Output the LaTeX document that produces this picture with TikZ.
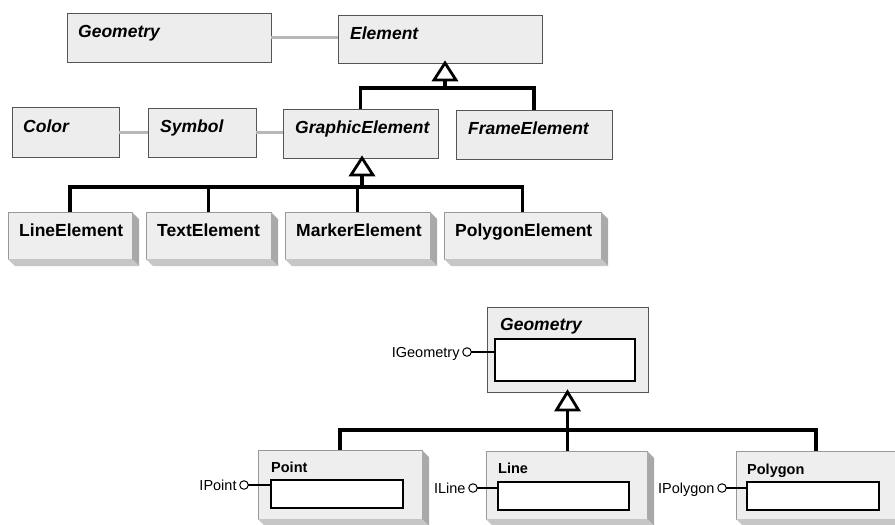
\documentclass[tikz,border=0pt]{standalone}
\usepackage{fontspec}
\setmainfont{Liberation Sans}
\usetikzlibrary{calc}
\definecolor{boxfill}{HTML}{EDEDED}
\definecolor{boxline}{HTML}{555555}
\definecolor{facefill}{HTML}{EEEEEE}
\definecolor{faceline}{HTML}{999999}
\definecolor{assocgray}{HTML}{B8B8B8}
\definecolor{sidegray}{HTML}{A9A9A9}
\definecolor{botgray}{HTML}{C6C6C6}
\tikzset{
 cls/.style={draw=boxline, fill=boxfill, line width=0.9pt, inner sep=0, outer sep=0, anchor=north west},
 face/.style={draw=faceline, fill=facefill, line width=0.6pt, inner sep=0, outer sep=0, anchor=north west},
 innerbox/.style={draw=black, fill=white, line width=1.3pt, inner sep=0, outer sep=0, anchor=north west},
 ttl/.style={font=\fontsize{17.5}{20}\selectfont\bfseries\itshape, inner sep=0, anchor=base west},
 sub/.style={font=\fontsize{17.5}{20}\selectfont\bfseries, inner sep=0, anchor=base west},
 small/.style={font=\fontsize{14.5}{17}\selectfont\bfseries, inner sep=0, anchor=base west},
 ifl/.style={font=\fontsize{14.5}{17}\selectfont, inner sep=0, anchor=base east},
 lolli/.style={circle, draw=black, fill=white, line width=1pt, minimum size=8.5pt, inner sep=0, outer sep=0},
 stick/.style={draw=black, line width=1.1pt},
 assoc/.style={draw=assocgray, line width=3pt},
 inh/.style={draw=black, line width=3.4pt, line join=miter},
 tri/.style={draw=black, fill=white, line width=2.8pt, line join=miter},
 sideface/.style={fill=sidegray},
 botface/.style={fill=botgray},
}
\newcommand{\mkdepth}[1]{%
 \fill[sideface] (#1.north east) -- ($(#1.north east)+(7,7)$) -- ($(#1.south east)+(7,7)$) -- (#1.south east) -- cycle;
 \fill[botface] (#1.south west) -- ($(#1.south west)+(7,7)$) -- ($(#1.south east)+(7,7)$) -- (#1.south east) -- cycle;
}
\begin{document}
\begin{tikzpicture}[x=1pt,y=-1pt]
\useasboundingbox (0,0) rectangle (895,525);
\clip (0,0) rectangle (895,525);
% ---------- top hierarchy ----------
\node[cls, minimum width=204pt, minimum height=49pt] (geoT) at (67,13) {};
\node[cls, minimum width=204pt, minimum height=48pt] (elem) at (338,15) {};
\node[cls, minimum width=107pt, minimum height=50pt] (col) at (12,107) {};
\node[cls, minimum width=108pt, minimum height=49pt] (sym) at (148,108) {};
\node[cls, minimum width=155pt, minimum height=49pt] (ge) at (283,109) {};
\node[cls, minimum width=156pt, minimum height=49pt] (fr) at (456,110) {};
\node[ttl] (geoTl) at (78,37) {Geometry};
\node[ttl] (eleml) at (350,39) {Element};
\node[ttl] (coll) at (23,132) {Color};
\node[ttl] (syml) at (160,132) {Symbol};
\node[ttl] (gel) at (295,133) {GraphicElement};
\node[ttl] (frl) at (468,134) {FrameElement};
\draw[assoc] (geoT.east) -- (geoT.east -| elem.west);
\draw[assoc] (col.east) -- (col.east -| sym.west);
\draw[assoc] (sym.east) -- (sym.east -| ge.west);
% 3D boxes
\node[face, minimum width=124pt, minimum height=47pt] (le) at (8,212) {};
\node[face, minimum width=125pt, minimum height=47pt] (te) at (146,212) {};
\node[face, minimum width=145pt, minimum height=47pt] (me) at (285,212) {};
\node[face, minimum width=157pt, minimum height=47pt] (pe) at (444,212) {};
\mkdepth{le}\mkdepth{te}\mkdepth{me}\mkdepth{pe}
\node[sub] (lel) at (19,236) {LineElement};
\node[sub] (tel) at (157,236) {TextElement};
\node[sub] (mel) at (296,236) {MarkerElement};
\node[sub] (pel) at (455,236) {PolygonElement};
% inheritance Element
\coordinate (t1) at ($(elem.south)+(5,0)$);
\coordinate (t1b) at ($(t1)+(0,17)$);
\coordinate (j1) at ($(t1)+(0,25)$);
\draw[inh] (ge.north) |- (j1) -| (fr.north);
\draw[inh] (t1b) -- (j1);
\draw[tri] (t1) -- ++(-11,17) -- ++(22,0) -- cycle;
% inheritance GraphicElement
\coordinate (t2) at ($(ge.south)+(1.5,0)$);
\coordinate (t2b) at ($(t2)+(0,17)$);
\coordinate (j2) at ($(t2)+(0,29)$);
\draw[inh] (le.north) |- (j2) -| (pe.north);
\draw[inh] (te.north) -- (te.north |- j2);
\draw[inh] (me.north) -- (me.north |- j2);
\draw[inh] (t2b) -- (j2);
\draw[tri] (t2) -- ++(-11,17) -- ++(22,0) -- cycle;
% ---------- bottom hierarchy ----------
\node[cls, minimum width=161pt, minimum height=85pt] (geoB) at (487,307) {};
\node[innerbox, minimum width=140pt, minimum height=42pt] (inG) at (495,339) {};
\node[ttl] (geoBl) at (500,330) {Geometry};
\node[face, minimum width=164pt, minimum height=69pt] (pt) at (258,450) {};
\node[face, minimum width=161pt, minimum height=68pt] (ln) at (486,451) {};
\node[face, minimum width=160pt, minimum height=68pt] (pg) at (736,451) {};
\mkdepth{pt}\mkdepth{ln}\mkdepth{pg}
\node[innerbox, minimum width=132pt, minimum height=28pt] (inP) at (271,480) {};
\node[innerbox, minimum width=131pt, minimum height=28pt] (inL) at (498,482) {};
\node[innerbox, minimum width=132pt, minimum height=28pt] (inPg) at (747,482) {};
\node[small] (ptl) at (271,472) {Point};
\node[small] (lnl) at (498,473) {Line};
\node[small] (pgl) at (747,474) {Polygon};
% lollipops
\node[lolli] (cG) at (467,352) {};
\node[lolli] (cP) at (244,485) {};
\node[lolli] (cL) at (473,488) {};
\node[lolli] (cPg) at (722,488) {};
\draw[stick] (cG.east) -- (cG.east -| inG.west);
\draw[stick] (cP.east) -- (cP.east -| inP.west);
\draw[stick] (cL.east) -- (cL.east -| inL.west);
\draw[stick] (cPg.east) -- (cPg.east -| inPg.west);
\node[ifl] (lG) at ($(cG.west)+(-3,5)$) {IGeometry};
\node[ifl] (lP) at ($(cP.west)+(-3,5)$) {IPoint};
\node[ifl] (lL) at ($(cL.west)+(-3,5)$) {ILine};
\node[ifl] (lPg) at ($(cPg.west)+(-3,5)$) {IPolygon};
% inheritance Geometry
\coordinate (t3) at (geoB.south);
\coordinate (t3b) at ($(t3)+(0,18)$);
\coordinate (j3) at ($(t3)+(0,38)$);
\draw[inh] (pt.north) |- (j3) -| (pg.north);
\draw[inh] (t3b) -- (t3b |- ln.north);
\draw[tri] (t3) -- ++(-11,18) -- ++(22,0) -- cycle;
\end{tikzpicture}
\end{document}
